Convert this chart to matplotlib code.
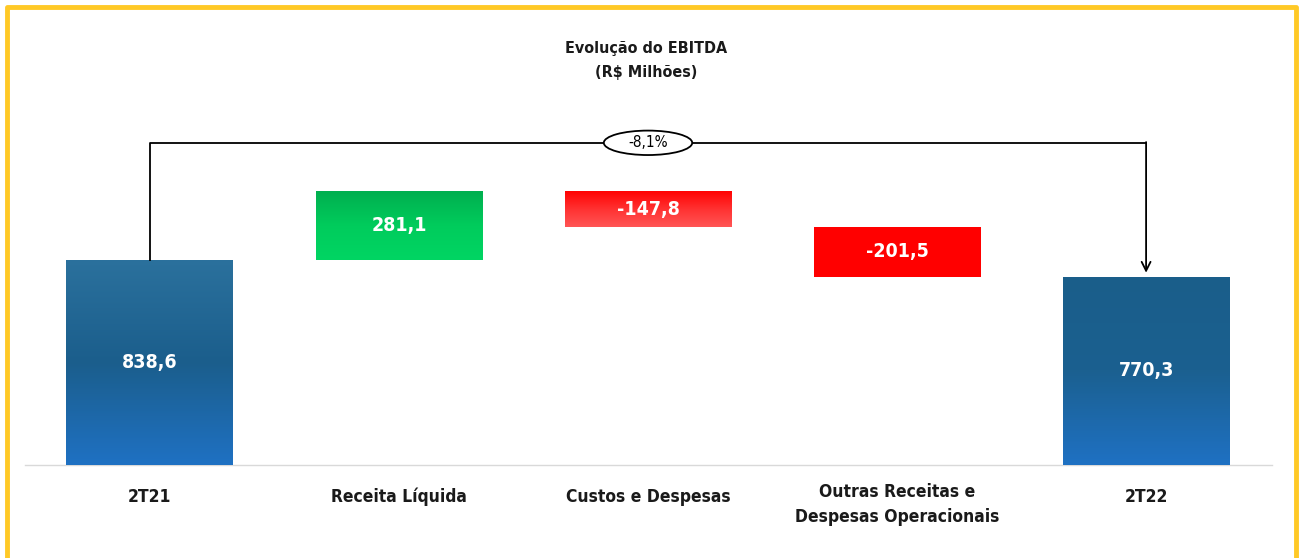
import numpy as np
import matplotlib
matplotlib.use("Agg")
import matplotlib.pyplot as plt
from matplotlib.colors import LinearSegmentedColormap
from matplotlib.patches import Ellipse
from matplotlib.lines import Line2D

plt.rcParams['font.family'] = ['DejaVu Sans']
plt.rcParams['font.stretch'] = 'condensed'

categories = ["2T21", "Receita Líquida", "Custos e Despesas",
              "Outras Receitas e\nDespesas Operacionais", "2T22"]
values = [838.6, 281.1, -147.8, -201.5, 770.3]
labels = ["838,6", "281,1", "-147,8", "-201,5", "770,3"]
kinds = ["total", "delta", "delta", "delta", "total"]

# gradient colours, top -> bottom
grads = [
    ["#2B719D", "#1B5E8C", "#1F71C3"],
    ["#00AF4F", "#00CC5C", "#00D563"],
    ["#FF0000", "#FF3030", "#FF5555"],
    ["#FF0000", "#FF0000", "#FF0000"],
    ["#1A5E8A", "#1B6090", "#1F71C3"],
]

# waterfall bottoms/heights
bottoms, heights = [], []
run = 0.0
for v, k in zip(values, kinds):
    if k == "total":
        bottoms.append(0)
        heights.append(v)
        run = v
    else:
        if v >= 0:
            bottoms.append(run)
        else:
            bottoms.append(run + v)
        heights.append(abs(v))
        run += v

fig = plt.figure(figsize=(13.01, 5.58), dpi=100)
ax = fig.add_axes([0, 0, 1, 1])
x = np.arange(len(values))
ax.set_xlim(-0.602, 4.622)
ax.set_ylim(-380.4, 1901.8)
ax.axis("off")

ax.axhline(0, xmin=0.019, xmax=0.978, color="#D9D9D9", lw=1, zorder=1)

bars = ax.bar(x, heights, bottom=bottoms, width=0.67, color="none",
              edgecolor="none", zorder=2)
grad = np.linspace(0, 1, 256).reshape(-1, 1)
for b, cols in zip(bars, grads):
    cmap = LinearSegmentedColormap.from_list("g", cols)
    x0, y0 = b.get_x(), b.get_y()
    im = ax.imshow(grad, cmap=cmap, aspect="auto", origin="upper",
                   extent=[x0, x0 + b.get_width(), y0, y0 + b.get_height()],
                   zorder=2)
    im.set_clip_path(b)

for i, (b, lab) in enumerate(zip(bars, labels)):
    ax.text(x[i], b.get_y() + b.get_height() / 2, lab, color="white",
            fontsize=14, fontweight="bold", ha="center", va="center", zorder=3)

for i, c in enumerate(categories):
    yy = -131 if "\n" not in c else -160
    ax.text(x[i], yy, c, ha="center", va="center", fontsize=12.5,
            fontweight="bold", color="#1a1a1a", linespacing=1.5)

# connector with percentage
top = max(b + h for b, h in zip(bottoms, heights))
yc = top + 198
ax.plot([x[0], x[0], x[-1]], [values[0], yc, yc], color="black", lw=1.3,
        zorder=3)
ax.annotate("", xy=(x[-1], values[-1] + 16), xytext=(x[-1], yc + 3),
            arrowprops=dict(arrowstyle="->", color="black", lw=1.3,
                            shrinkA=0, shrinkB=0, mutation_scale=16),
            zorder=3)
pct = (values[-1] / values[0] - 1) * 100
xm = (x[0] + x[-1]) / 2
ax.add_patch(Ellipse((xm, yc), 0.355, 100, facecolor="white",
                     edgecolor="black", lw=1.3, zorder=4))
ax.text(xm, yc, f"{pct:.1f}%".replace(".", ","), ha="center", va="center",
        fontsize=11, color="black", zorder=5)

fig.text(646 / 1301, 1 - 48 / 558, "Evolução do EBITDA", ha="center",
         va="center", fontsize=11.5, fontweight="bold", color="#1a1a1a")
fig.text(646 / 1301, 1 - 72 / 558, "(R$ Milhões)", ha="center",
         va="center", fontsize=11.5, fontweight="bold", color="#1a1a1a")

# yellow frame (no bottom edge)
fx = lambda p: p / 1301
fy = lambda p: 1 - p / 558
fig.add_artist(Line2D([fx(6.5), fx(6.5), fx(1296), fx(1296)],
                      [0, fy(6.5), fy(6.5), 0], color="#FFC926", lw=3.5,
                      transform=fig.transFigure))

fig.savefig("out.png", dpi=100)
